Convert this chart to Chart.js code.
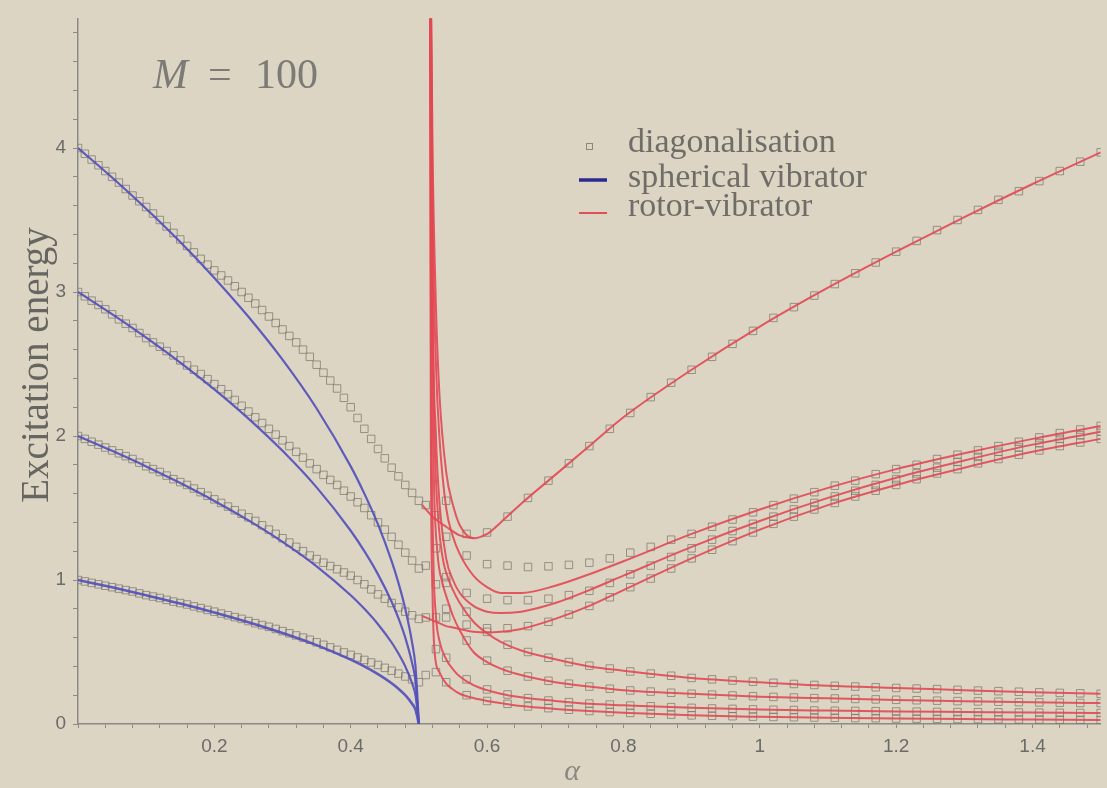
<!DOCTYPE html>
<html><head><meta charset="utf-8">
<script src="https://cdn.jsdelivr.net/npm/chart.js@4.4.1/dist/chart.umd.min.js"></script>
<style>html,body{margin:0;padding:0;background:#dcd5c3;}canvas{display:block;}</style>
</head><body>
<canvas id="c" width="1107" height="788"></canvas>
<script>
// ---------- axis ranges ----------
const xRange = [0, 1.5];
const yRange = [0, 4.9];

// ---------- spherical vibrator (blue) ----------
const blueAlpha = [0, 0.05, 0.1, 0.15, 0.2, 0.25, 0.3, 0.35, 0.4, 0.42, 0.44, 0.46, 0.47, 0.48, 0.49, 0.495, 0.5];
const blue1 = [1, 0.949, 0.894, 0.837, 0.775, 0.707, 0.632, 0.548, 0.447, 0.4, 0.346, 0.283, 0.245, 0.2, 0.141, 0.1, 0];
const blue2 = [2, 1.897, 1.789, 1.673, 1.549, 1.414, 1.265, 1.095, 0.894, 0.8, 0.693, 0.566, 0.49, 0.4, 0.283, 0.2, 0];
const blue3 = [3, 2.846, 2.683, 2.51, 2.324, 2.121, 1.897, 1.643, 1.342, 1.2, 1.039, 0.849, 0.735, 0.6, 0.424, 0.3, 0];
const blue4 = [4, 3.795, 3.578, 3.347, 3.098, 2.828, 2.53, 2.191, 1.789, 1.6, 1.386, 1.131, 0.98, 0.8, 0.566, 0.4, 0];

// ---------- rotor-vibrator (red) ----------
const redGrid = [0.55, 0.56, 0.58, 0.6, 0.62, 0.65, 0.7, 0.75, 0.8, 0.9, 1.0, 1.1, 1.2, 1.3, 1.4, 1.5];
const uHeadAlpha = [0.517, 0.52, 0.525, 0.53, 0.54];
const uHead = [5.5, 4.0, 2.9, 2.3, 1.75];
const redU = [1.52, 1.38, 1.29, 1.32, 1.4, 1.53, 1.73, 1.93, 2.13, 2.46, 2.76, 3.03, 3.28, 3.52, 3.75, 3.97];
const u2Alpha = [0.505, 0.52, 0.54, 0.56, 0.58];
const redU2 = [1.52, 1.44, 1.37, 1.31, 1.29];
const aHeadAlpha = [0.517, 0.52, 0.525, 0.53, 0.54];
const aHead = [5.5, 3.6, 2.5, 2.0, 1.5];
const redA = [1.3, 1.18, 1.03, 0.95, 0.91, 0.91, 0.96, 1.04, 1.13, 1.32, 1.49, 1.64, 1.77, 1.88, 1.98, 2.07];
const bHeadAlpha = [0.517, 0.52, 0.525, 0.53, 0.54];
const bHead = [5.5, 3.0, 2.0, 1.55, 1.15];
const redB = [1.0, 0.91, 0.82, 0.78, 0.77, 0.78, 0.84, 0.93, 1.03, 1.23, 1.41, 1.57, 1.71, 1.83, 1.94, 2.03];
const cHeadAlpha = [0.505, 0.52, 0.53, 0.54];
const cHead = [0.75, 0.72, 0.70, 0.68];
const redC = [0.67, 0.66, 0.64, 0.635, 0.64, 0.66, 0.73, 0.82, 0.93, 1.15, 1.35, 1.52, 1.66, 1.78, 1.89, 1.98];
const d4HeadAlpha = [0.517, 0.52, 0.523, 0.528, 0.535, 0.54];
const d4Head = [5.5, 3.0, 2.0, 1.45, 1.15, 1.05];
const redD4 = [0.93, 0.84, 0.71, 0.63, 0.57, 0.51, 0.45, 0.40, 0.37, 0.32, 0.29, 0.265, 0.25, 0.235, 0.22, 0.21];
const d3HeadAlpha = [0.5165, 0.519, 0.522, 0.527, 0.535, 0.54];
const d3Head = [5.5, 2.8, 1.7, 1.2, 0.97, 0.89];
const redD3 = [0.75, 0.65, 0.5, 0.43, 0.385, 0.34, 0.29, 0.26, 0.235, 0.21, 0.19, 0.178, 0.167, 0.158, 0.151, 0.145];
const d2HeadAlpha = [0.5162, 0.518, 0.521, 0.525, 0.53, 0.54];
const d2Head = [5.5, 2.5, 1.2, 0.75, 0.58, 0.45];
const redD2 = [0.38, 0.33, 0.27, 0.235, 0.21, 0.185, 0.16, 0.14, 0.13, 0.112, 0.1, 0.093, 0.087, 0.083, 0.079, 0.076];
const d1HeadAlpha = [0.516, 0.5175, 0.52, 0.523, 0.53, 0.54];
const d1Head = [5.5, 2.0, 0.9, 0.5, 0.36, 0.28];
const redD1 = [0.24, 0.21, 0.18, 0.16, 0.145, 0.125, 0.105, 0.09, 0.078, 0.06, 0.05, 0.043, 0.038, 0.034, 0.031, 0.028];

// ---------- diagonalisation (squares) ----------
const sqLeftAlpha = [0, 0.01, 0.02, 0.03, 0.04, 0.05, 0.06, 0.07, 0.08, 0.09, 0.1, 0.11, 0.12, 0.13, 0.14, 0.15, 0.16, 0.17, 0.18, 0.19, 0.2, 0.21, 0.22, 0.23, 0.24, 0.25, 0.26, 0.27, 0.28, 0.29, 0.3, 0.31, 0.32, 0.33, 0.34, 0.35, 0.36, 0.37, 0.38, 0.39, 0.4, 0.41, 0.42, 0.43, 0.44, 0.45, 0.46, 0.47, 0.48, 0.49, 0.5];
const sqL1 = [1.0, 0.99, 0.98, 0.97, 0.96, 0.95, 0.94, 0.93, 0.92, 0.907, 0.895, 0.885, 0.875, 0.862, 0.85, 0.84, 0.83, 0.817, 0.805, 0.792, 0.78, 0.767, 0.755, 0.742, 0.73, 0.715, 0.70, 0.687, 0.675, 0.66, 0.645, 0.63, 0.615, 0.60, 0.585, 0.567, 0.55, 0.532, 0.515, 0.497, 0.48, 0.462, 0.445, 0.427, 0.41, 0.39, 0.37, 0.35, 0.33, 0.31, 0.29];
const sqL2 = [2.0, 1.98, 1.96, 1.94, 1.92, 1.90, 1.88, 1.86, 1.84, 1.815, 1.79, 1.77, 1.75, 1.725, 1.70, 1.68, 1.66, 1.635, 1.61, 1.585, 1.56, 1.535, 1.51, 1.485, 1.46, 1.435, 1.41, 1.38, 1.35, 1.32, 1.29, 1.26, 1.23, 1.20, 1.17, 1.145, 1.12, 1.097, 1.075, 1.052, 1.03, 1.0, 0.97, 0.935, 0.9, 0.87, 0.84, 0.81, 0.78, 0.755, 0.73];
const sqL3 = [3.0, 2.97, 2.94, 2.91, 2.88, 2.845, 2.81, 2.78, 2.75, 2.715, 2.68, 2.65, 2.62, 2.59, 2.56, 2.525, 2.49, 2.46, 2.43, 2.395, 2.36, 2.325, 2.29, 2.25, 2.21, 2.17, 2.13, 2.09, 2.05, 2.01, 1.97, 1.93, 1.89, 1.85, 1.81, 1.77, 1.73, 1.695, 1.66, 1.62, 1.58, 1.54, 1.50, 1.45, 1.40, 1.35, 1.30, 1.245, 1.19, 1.135, 1.08];
const sqL4 = [4.0, 3.96, 3.92, 3.88, 3.84, 3.80, 3.76, 3.715, 3.67, 3.63, 3.59, 3.545, 3.50, 3.455, 3.41, 3.365, 3.32, 3.275, 3.23, 3.19, 3.15, 3.115, 3.08, 3.04, 3.0, 2.96, 2.92, 2.875, 2.83, 2.785, 2.74, 2.695, 2.65, 2.60, 2.55, 2.495, 2.44, 2.385, 2.33, 2.265, 2.20, 2.125, 2.05, 1.98, 1.91, 1.845, 1.78, 1.72, 1.66, 1.605, 1.55];
const sqTransAlpha = [0.51, 0.51, 0.51, 0.51, 0.525, 0.525, 0.525, 0.525, 0.525, 0.525];
const sqTrans = [1.52, 1.1, 0.74, 0.34, 1.45, 1.22, 0.97, 0.74, 0.52, 0.36];
const sqRightAlpha = [0.54, 0.57, 0.60, 0.63, 0.66, 0.69, 0.72, 0.75, 0.78, 0.81, 0.84, 0.87, 0.90, 0.93, 0.96, 0.99, 1.02, 1.05, 1.08, 1.11, 1.14, 1.17, 1.20, 1.23, 1.26, 1.29, 1.32, 1.35, 1.38, 1.41, 1.44, 1.47, 1.50];
const sqU = [1.55, 1.32, 1.33, 1.44, 1.57, 1.69, 1.81, 1.93, 2.05, 2.16, 2.27, 2.37, 2.46, 2.55, 2.64, 2.73, 2.82, 2.895, 2.975, 3.055, 3.13, 3.205, 3.28, 3.355, 3.43, 3.50, 3.57, 3.64, 3.70, 3.77, 3.84, 3.905, 3.97];
const sqA = [1.3, 1.17, 1.11, 1.10, 1.09, 1.095, 1.105, 1.12, 1.15, 1.19, 1.23, 1.28, 1.32, 1.37, 1.42, 1.47, 1.52, 1.565, 1.61, 1.655, 1.69, 1.735, 1.77, 1.80, 1.84, 1.87, 1.90, 1.93, 1.96, 1.99, 2.02, 2.045, 2.07];
const sqB = [1.02, 0.91, 0.87, 0.86, 0.86, 0.87, 0.895, 0.925, 0.98, 1.04, 1.10, 1.16, 1.22, 1.28, 1.34, 1.39, 1.44, 1.49, 1.535, 1.58, 1.62, 1.66, 1.70, 1.74, 1.78, 1.82, 1.855, 1.89, 1.92, 1.95, 1.98, 2.005, 2.03];
const sqC = [0.74, 0.69, 0.665, 0.665, 0.68, 0.71, 0.76, 0.82, 0.88, 0.95, 1.01, 1.08, 1.15, 1.21, 1.27, 1.33, 1.39, 1.44, 1.49, 1.535, 1.58, 1.62, 1.66, 1.70, 1.74, 1.77, 1.81, 1.84, 1.87, 1.90, 1.93, 1.955, 1.98];
const sqD4 = [0.98, 0.78, 0.64, 0.55, 0.50, 0.46, 0.43, 0.405, 0.385, 0.365, 0.35, 0.335, 0.32, 0.31, 0.302, 0.294, 0.286, 0.278, 0.271, 0.265, 0.26, 0.255, 0.25, 0.246, 0.242, 0.237, 0.232, 0.228, 0.224, 0.22, 0.216, 0.213, 0.21];
const sqD3 = [0.80, 0.58, 0.44, 0.37, 0.33, 0.30, 0.28, 0.26, 0.245, 0.233, 0.225, 0.217, 0.21, 0.204, 0.198, 0.193, 0.188, 0.184, 0.18, 0.177, 0.174, 0.171, 0.168, 0.165, 0.162, 0.159, 0.157, 0.155, 0.152, 0.15, 0.148, 0.146, 0.145];
const sqD2 = [0.46, 0.31, 0.24, 0.205, 0.18, 0.163, 0.152, 0.142, 0.135, 0.128, 0.123, 0.117, 0.112, 0.108, 0.105, 0.102, 0.099, 0.097, 0.094, 0.092, 0.091, 0.089, 0.087, 0.086, 0.084, 0.083, 0.082, 0.081, 0.08, 0.079, 0.078, 0.077, 0.076];
const sqD1 = [0.29, 0.2, 0.16, 0.14, 0.122, 0.11, 0.099, 0.09, 0.083, 0.077, 0.071, 0.065, 0.06, 0.057, 0.054, 0.051, 0.049, 0.047, 0.045, 0.043, 0.041, 0.04, 0.038, 0.037, 0.036, 0.035, 0.034, 0.033, 0.032, 0.031, 0.03, 0.029, 0.028];

// ---------- tick labels ----------
const xTickLabels = ['0.2', '0.4', '0.6', '0.8', '1', '1.2', '1.4'];
const yTickLabels = ['0', '1', '2', '3', '4'];

// ---------- build ----------
const pts = (xs, ys) => xs.map((x, i) => ({x: x, y: ys[i]}));
const BLUE = 'rgba(82,80,188,0.92)';
const RED = 'rgba(226,72,84,0.9)';
const line = (data, color, w) => ({data, showLine: true, pointRadius: 0, borderColor: color,
  borderWidth: w, cubicInterpolationMode: 'monotone', fill: false, order: 1});

const squares = [].concat(
  pts(sqLeftAlpha, sqL1), pts(sqLeftAlpha, sqL2), pts(sqLeftAlpha, sqL3), pts(sqLeftAlpha, sqL4),
  pts(sqTransAlpha, sqTrans),
  pts(sqRightAlpha, sqU), pts(sqRightAlpha, sqA), pts(sqRightAlpha, sqB), pts(sqRightAlpha, sqC),
  pts(sqRightAlpha, sqD4), pts(sqRightAlpha, sqD3), pts(sqRightAlpha, sqD2), pts(sqRightAlpha, sqD1));

const datasets = [
  {label: 'diagonalisation', data: squares, pointStyle: 'rect', pointRadius: 5.3,
   pointBorderColor: 'rgba(120,114,106,0.7)', pointBackgroundColor: 'rgba(0,0,0,0)', pointBorderWidth: 1, order: 5},
  line(pts(blueAlpha, blue1), BLUE, 2.6), line(pts(blueAlpha, blue2), BLUE, 2.2),
  line(pts(blueAlpha, blue3), BLUE, 2.2), line(pts(blueAlpha, blue4), BLUE, 2.2),
  line(pts(uHeadAlpha.concat(redGrid), uHead.concat(redU)), RED, 2),
  line(pts(u2Alpha, redU2), RED, 2),
  line(pts(aHeadAlpha.concat(redGrid), aHead.concat(redA)), RED, 2),
  line(pts(bHeadAlpha.concat(redGrid), bHead.concat(redB)), RED, 2),
  line(pts(cHeadAlpha.concat(redGrid), cHead.concat(redC)), RED, 2),
  line(pts(d4HeadAlpha.concat(redGrid), d4Head.concat(redD4)), RED, 2),
  line(pts(d3HeadAlpha.concat(redGrid), d3Head.concat(redD3)), RED, 2),
  line(pts(d2HeadAlpha.concat(redGrid), d2Head.concat(redD2)), RED, 2),
  line(pts(d1HeadAlpha.concat(redGrid), d1Head.concat(redD1)), RED, 2)
];

const decor = {
  id: 'decor',
  afterDraw(chart) {
    const ctx = chart.ctx;
    ctx.save();
    // M = 100
    ctx.fillStyle = '#7c7b76';
    ctx.textBaseline = 'alphabetic';
    ctx.font = 'italic 42px "Liberation Serif"';
    ctx.fillText('M', 153, 88);
    ctx.font = '42px "Liberation Serif"';
    ctx.fillText('=', 208, 88);
    ctx.fillText('100', 255, 88);
    // legend
    ctx.font = '34px "Liberation Serif"';
    ctx.fillStyle = '#6f6d68';
    ctx.fillText('diagonalisation', 628, 152);
    ctx.fillText('spherical vibrator', 628, 187);
    ctx.fillText('rotor-vibrator', 628, 216);
    ctx.strokeStyle = 'rgba(120,114,106,0.8)';
    ctx.lineWidth = 1;
    ctx.strokeRect(586.5, 143.5, 6, 6);
    ctx.strokeStyle = '#2c2a8e';
    ctx.lineWidth = 3.5;
    ctx.beginPath(); ctx.moveTo(579, 180); ctx.lineTo(607, 180); ctx.stroke();
    ctx.strokeStyle = '#e0505a';
    ctx.lineWidth = 2;
    ctx.beginPath(); ctx.moveTo(579, 213); ctx.lineTo(607, 213); ctx.stroke();
    // axis titles
    ctx.fillStyle = '#8a8884';
    ctx.font = 'italic 30px "Liberation Serif"';
    ctx.textAlign = 'center';
    ctx.textBaseline = 'middle';
    ctx.fillText('α', 572, 772);
    ctx.translate(38, 365);
    ctx.rotate(-Math.PI / 2);
    ctx.fillStyle = '#666560';
    ctx.font = '39px "Liberation Serif"';
    ctx.fillText('Excitation energy', 0, 0);
    ctx.restore();
  }
};

const tickFont = {family: '"Liberation Sans", Arial, sans-serif', size: 19};
new Chart(document.getElementById('c'), {
  type: 'scatter',
  data: {datasets},
  options: {
    responsive: false, animation: false, devicePixelRatio: 1,
    layout: {padding: {top: 15, right: 0, left: 0, bottom: 0}},
    plugins: {legend: {display: false}, tooltip: {enabled: false}},
    events: [],
    scales: {
      x: {
        type: 'linear', min: xRange[0], max: xRange[1],
        afterFit: s => { s.height = 64; },
        border: {display: true, color: '#8c8a86', width: 1.5},
        grid: {drawOnChartArea: false, drawTicks: true, tickLength: 4, color: '#8c8a86'},
        ticks: {stepSize: 0.04, autoSkip: false, maxRotation: 0, includeBounds: false, padding: 7,
          color: '#6c6b68', font: tickFont,
          callback: v => { const r = Math.round(v * 100) / 100; const lbl = String(r); return xTickLabels.includes(lbl) ? lbl : ''; }}
      },
      y: {
        type: 'linear', min: yRange[0], max: yRange[1],
        afterFit: s => { s.width = 78; },
        border: {display: true, color: '#8c8a86', width: 1.5},
        grid: {drawOnChartArea: false, drawTicks: true, tickLength: 5, color: '#8c8a86'},
        ticks: {stepSize: 0.2, autoSkip: false, includeBounds: false, padding: 7,
          color: '#6c6b68', font: tickFont,
          callback: v => { const r = Math.round(v * 100) / 100; const lbl = String(r); return yTickLabels.includes(lbl) ? lbl : ''; }}
      }
    }
  },
  plugins: [decor]
});
</script>
</body></html>
